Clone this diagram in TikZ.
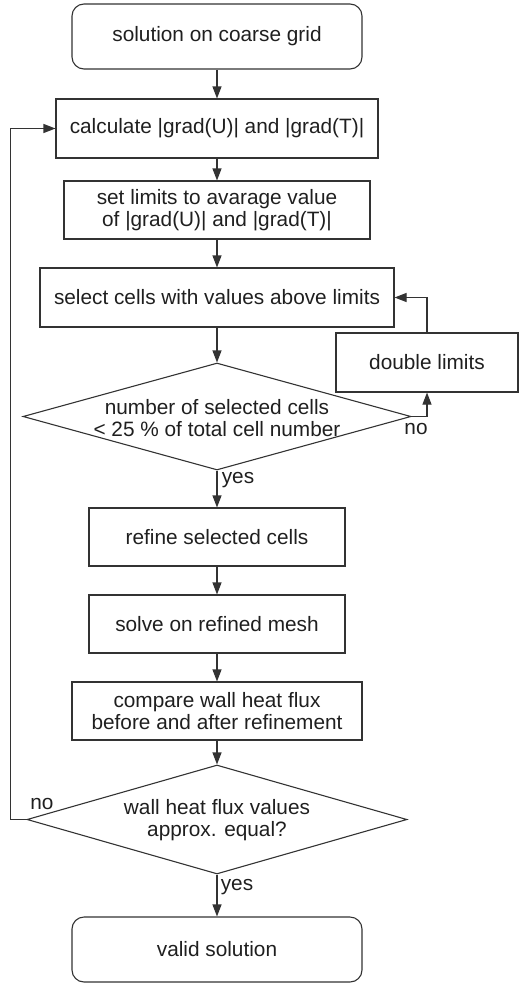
\documentclass[tikz,border=0pt]{standalone}
\usepackage{fontspec}
\setmainfont{Liberation Sans}
\usetikzlibrary{shapes.geometric,arrows.meta}
\begin{document}
\begin{tikzpicture}[x=1pt,y=-1pt,
 every node/.style={font=\fontsize{20.8}{21.7}\selectfont, text=black!88},
 box/.style={draw=black!80, line width=1.1pt, rectangle, inner sep=0pt, align=center},
 term/.style={box, rounded corners=12pt},
 dec/.style={draw=black!80, line width=1.1pt, diamond, inner sep=0pt},
 lbl/.style={align=center, inner sep=0pt},
 conn/.style={draw=black!80, line width=1.1pt, -{Triangle[length=12pt,width=9pt]}},
]
\useasboundingbox (0,0) rectangle (532,985);

\node[term, minimum width=290pt, minimum height=65pt] (start) at (217,36.5) {solution on coarse grid};
\node[box, minimum width=322pt, minimum height=59pt] (calc) at (217,128.5) {calculate |grad(U)| and |grad(T)|};
\node[box, minimum width=306pt, minimum height=58pt] (setl) at (217,210) {set limits to avarage value\\of |grad(U)| and |grad(T)|};
\node[box, minimum width=354pt, minimum height=59pt] (sel) at (217,297.5) {select cells with values above limits};
\node[box, minimum width=182pt, minimum height=59pt] (dbl) at (427,362.5) {double limits};
\node[dec, minimum width=388pt, minimum height=107pt] (d1) at (217,416.5) {};
\node[lbl] (d1text) at (217,418) {number of selected cells\\< 25 \% of total cell number};
\node[box, minimum width=256pt, minimum height=58pt] (ref) at (217,537) {refine selected cells};
\node[box, minimum width=256pt, minimum height=58pt] (solve) at (217,624) {solve on refined mesh};
\node[box, minimum width=290pt, minimum height=58pt] (cmp) at (217,711) {compare wall heat flux\\before and after refinement};
\node[dec, minimum width=380pt, minimum height=109pt] (d2) at (217,819.5) {};
\node[lbl] (d2text) at (217,820) {wall heat flux values\\approx. equal?};
\node[term, minimum width=290pt, minimum height=65pt] (end) at (217,949.5) {valid solution};

\node[lbl] (no1) at (416,429) {no};
\node[lbl] (yes1) at (238,480) {yes};
\node[lbl] (no2) at (42,804) {no};
\node[lbl] (yes2) at (237,887) {yes};

\draw[conn] (start) -- (calc);
\draw[conn] (calc) -- (setl);
\draw[conn] (setl) -- (sel);
\draw[conn] (sel) -- (d1);
\draw[conn] (d1) -- (ref);
\draw[conn] (ref) -- (solve);
\draw[conn] (solve) -- (cmp);
\draw[conn] (cmp) -- (d2);
\draw[conn] (d2) -- (end);
\draw[conn] (d1.east) -| (dbl.south);
\draw[conn] (dbl.north) |- (sel.east);
\draw[conn] (d2.west) -- ++(-16,0) |- (calc.west);
\end{tikzpicture}
\end{document}
